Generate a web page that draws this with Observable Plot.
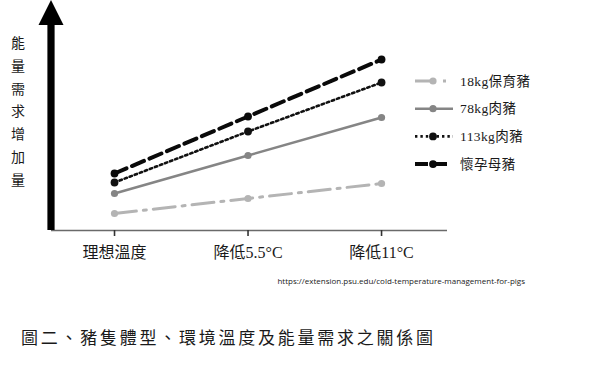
<!DOCTYPE html>
<html><head><meta charset="utf-8">
<script src="https://cdn.jsdelivr.net/npm/d3@7"></script>
<script src="https://cdn.jsdelivr.net/npm/@observablehq/plot@0.6"></script>
<style>
body{margin:0;background:#fff;}
#wrap{position:relative;width:605px;height:371px;background:#fff;overflow:hidden;font-family:"Liberation Serif","Noto Sans CJK TC",serif;color:#1a1a1a;}
#chart{position:absolute;left:0;top:0;}
#ylabel{position:absolute;left:0;top:0;}
#legend{position:absolute;left:410px;top:66px;}
#source{position:absolute;right:80px;top:275px;font-family:"Open Sans",sans-serif;font-size:8px;color:#222;white-space:nowrap;}
#caption{position:absolute;left:21px;top:324px;font-size:17px;letter-spacing:2.75px;white-space:nowrap;}
</style></head><body>
<div id="wrap">
  <div id="chart"></div>
  <div id="ylabel"></div>
  <div id="legend"></div>
  <div id="source"></div>
  <div id="caption"></div>
</div>
<script>
// ---- data ----
const categories = ["理想溫度", "降低5.5°C", "降低11°C"];
const seriesNames = ["18kg保育豬", "78kg肉豬", "113kg肉豬", "懷孕母豬"];
const piglet18 = [17, 32, 47];
const grower78 = [37, 75, 113];
const finisher113 = [48, 99, 148];
const sow = [57, 114, 171];
const yLabel = "能量需求增加量";
const sourceText = "https://extension.psu.edu/cold-temperature-management-for-pigs";
const captionText = "圖二、豬隻體型、環境溫度及能量需求之關係圖";

// ---- styles ----
const seriesValues = [piglet18, grower78, finisher113, sow];
const styles = [
  {stroke: "#b4b4b4", width: 3, dash: "22 7 3 7", r: 3.6},
  {stroke: "#858585", width: 2.5, dash: null, r: 3.6},
  {stroke: "#111111", width: 2.6, dash: "2.4 3", r: 3.9},
  {stroke: "#0a0a0a", width: 4, dash: "13 6", r: 3.9}
];
const yMax = 230;
const fontStack = '"Liberation Serif","Noto Sans CJK TC",serif';

const rows = seriesNames.flatMap((s, si) =>
  categories.map((c, ci) => ({series: s, xi: ci, value: seriesValues[si][ci]})));

function yArrow(index, scales, values, dimensions) {
  const cx = dimensions.marginLeft;
  const y0 = scales.y(0), yTop = scales.y(yMax);
  const g = d3.create("svg:g");
  g.append("rect").attr("x", cx - 3.6).attr("y", yTop + 24).attr("width", 7.2)
    .attr("height", y0 - yTop - 24).attr("fill", "#000");
  g.append("path").attr("d", `M${cx - 12.5},${yTop + 25}L${cx},${yTop}L${cx + 12.5},${yTop + 25}Z`)
    .attr("fill", "#000");
  return g.node();
}

const marks = [
  Plot.ruleY([0], {stroke: "#6a6a6a", strokeWidth: 1.6}),
  Plot.axisX({ticks: [0, 1, 2], tickFormat: i => categories[i], tickSize: 6, tickPadding: 10,
    fontSize: 16, stroke: "#333", strokeWidth: 1.6, label: null})
];
seriesNames.forEach((s, si) => {
  const st = styles[si];
  const d = rows.filter(r => r.series === s);
  marks.push(Plot.line(d, {x: "xi", y: "value", stroke: st.stroke, strokeWidth: st.width,
    strokeDasharray: st.dash || undefined}));
  marks.push(Plot.dot(d, {x: "xi", y: "value", fill: st.stroke, r: st.r, stroke: "none"}));
});
marks.push(yArrow);

const chart = Plot.plot({
  width: 605, height: 300,
  marginLeft: 51, marginRight: 158, marginTop: 0, marginBottom: 70,
  x: {type: "linear", domain: [-0.472, 2.494]},
  y: {domain: [0, yMax], axis: null},
  style: {fontFamily: fontStack, fontSize: "16px", color: "#1a1a1a", background: "transparent"},
  marks
});
document.getElementById("chart").append(chart);

// y label (vertical, one glyph per row)
const yl = d3.select("#ylabel").append("svg").attr("width", 40).attr("height", 200);
Array.from(yLabel).forEach((ch, i) => {
  yl.append("text").attr("x", 18).attr("y", 43 + i * 22.8).attr("dy", "0.36em")
    .attr("text-anchor", "middle").attr("font-size", 14).attr("fill", "#1a1a1a")
    .attr("font-family", fontStack).text(ch);
});

// legend
const lg = d3.select("#legend").append("svg").attr("width", 190).attr("height", 115);
seriesNames.forEach((s, i) => {
  const st = styles[i];
  const y = 15 + i * 27.7;
  lg.append("line").attr("x1", 5).attr("x2", 43).attr("y1", y).attr("y2", y)
    .attr("stroke", st.stroke).attr("stroke-width", st.width)
    .attr("stroke-dasharray", st.dash ? (i === 0 ? "20 8 3 8" : st.dash) : null);
  lg.append("circle").attr("cx", 23).attr("cy", y).attr("r", st.r).attr("fill", st.stroke);
  lg.append("text").attr("x", 50).attr("y", y).attr("dy", "0.35em")
    .attr("font-size", 13.5).attr("letter-spacing", 0.4).attr("fill", "#1a1a1a")
    .attr("font-family", fontStack).text(s);
});

document.getElementById("source").textContent = sourceText;
document.getElementById("caption").textContent = captionText;
</script>
</body></html>
